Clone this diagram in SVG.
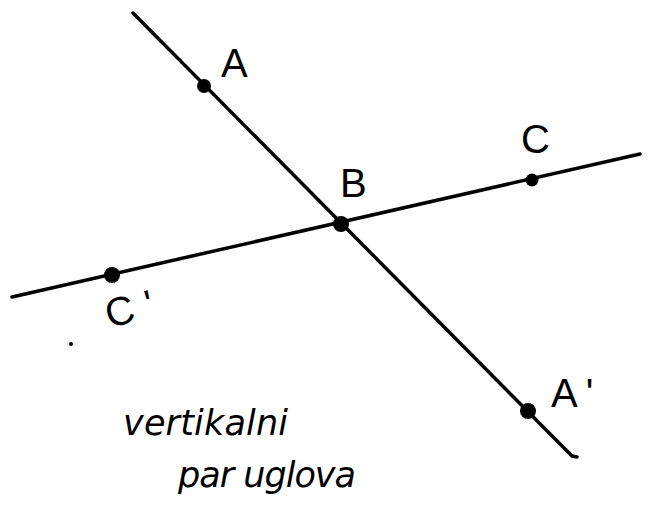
<svg xmlns="http://www.w3.org/2000/svg" width="651" height="509" viewBox="0 0 651 509">
<style>
.ln{stroke:#000;stroke-width:3.5;fill:none;stroke-linecap:round;stroke-linejoin:round}
.pt{fill:#000}
.lb{font-family:"Liberation Sans","DejaVu Sans",sans-serif;font-size:40px;fill:#000}
.hw{font-family:"DejaVu Sans","Liberation Sans",sans-serif;font-style:italic;font-size:35px;fill:#000}
</style>
<rect width="651" height="509" fill="#fff"/>
<g id="connectors">
<path class="ln" d="M133,13 L572,456 L577,457"/>
<path class="ln" d="M12,297 L640,154"/>
</g>
<g id="A"><circle class="pt" cx="204" cy="86" r="7"/><text class="lb" x="221" y="77">A</text></g>
<g id="B"><circle class="pt" cx="341" cy="224" r="8"/><text class="lb" x="340" y="197" font-size="38">B</text></g>
<g id="C"><circle class="pt" cx="532" cy="180" r="6.5"/><text class="lb" x="521" y="153" font-size="36">C</text></g>
<g id="C1"><circle class="pt" cx="112" cy="275" r="8"/><text class="lb" x="106" y="325" font-size="34" transform="rotate(-14 120 314)" letter-spacing="12">C'</text></g>
<g id="A1"><circle class="pt" cx="528" cy="411" r="8"/><text class="lb" x="551" y="407" letter-spacing="8">A'</text></g>
<circle class="pt" cx="71" cy="344" r="2"/>
<text class="hw" x="123" y="435" textLength="165" lengthAdjust="spacing">vertikalni</text>
<text class="hw" x="178" y="487" textLength="178" lengthAdjust="spacing">par uglova</text>
</svg>
